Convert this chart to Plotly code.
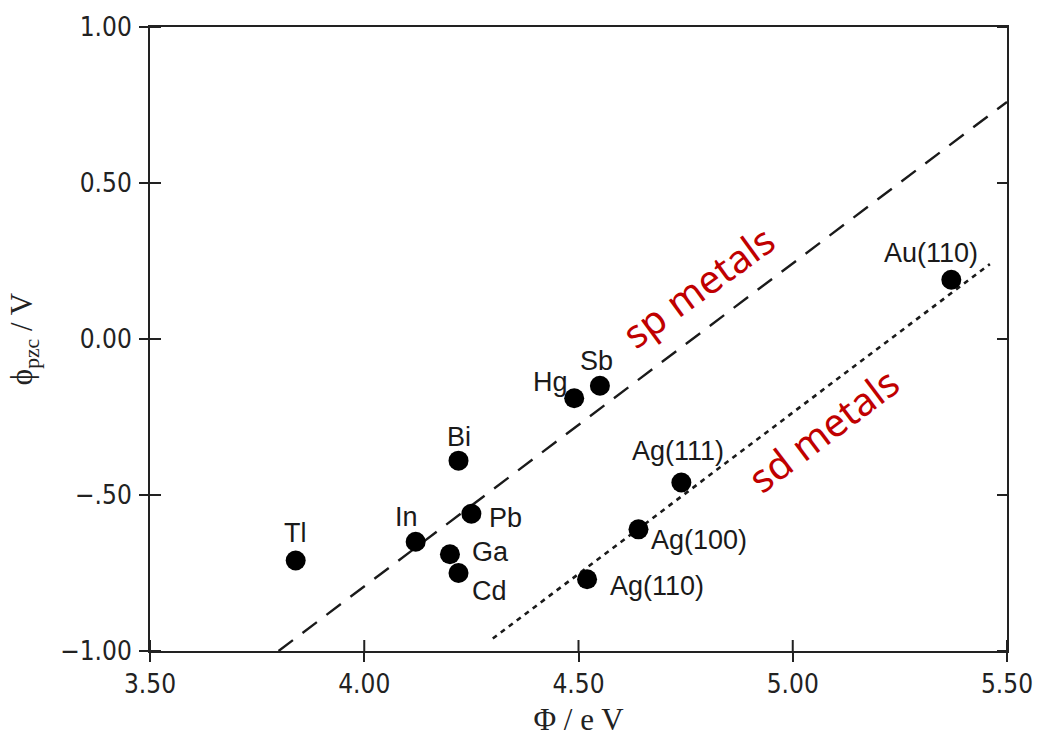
import plotly.graph_objects as go

# Work function vs. potential of zero charge
metals = ["Tl", "In", "Bi", "Pb", "Ga", "Cd", "Hg", "Sb",
          "Ag(111)", "Ag(100)", "Ag(110)", "Au(110)"]
work_function = [3.84, 4.12, 4.22, 4.25, 4.20, 4.22, 4.49, 4.55,
                 4.74, 4.64, 4.52, 5.37]
phi_pzc = [-0.71, -0.65, -0.39, -0.56, -0.69, -0.75, -0.19, -0.15,
           -0.46, -0.61, -0.77, 0.19]

# label offsets in pixels (dx, dy) relative to each point
label_dx = [0, -9, 0, 34, 41, 31, -24, -3, -3, 61, 70, -20]
label_dy = [28, 25, 24, -4, 2, -18, 16, 25, 32, -11, -7, 27]

# trend lines for the two groups
sp_x = [3.80, 5.50]
sp_y = [-1.00, 0.76]
sd_x = [4.30, 5.46]
sd_y = [-0.96, 0.24]

x_ticks = [3.5, 4.0, 4.5, 5.0, 5.5]
x_tick_text = ["3.50", "4.00", "4.50", "5.00", "5.50"]
y_ticks = [1.0, 0.5, 0.0, -0.5, -1.0]
y_tick_text = ["1.00", "0.50", "0.00", "\u2212.50", "\u22121.00"]

tick_font = dict(family="DejaVu Sans Condensed, Liberation Sans Narrow, "
                        "Arial Narrow, sans-serif",
                 size=26, color="#222222")
label_font = dict(family="Liberation Sans, Arial, sans-serif", size=27,
                  color="#1a1a1a")
title_font = dict(family="Liberation Serif, Times New Roman, serif",
                  size=31, color="#222222")
note_font = dict(family="Noto Sans, Open Sans, sans-serif", size=39,
                 color="#C00000")

fig = go.Figure()

fig.add_trace(go.Scatter(x=sp_x, y=sp_y, mode="lines",
                         line=dict(color="#1a1a1a", width=2.4,
                                   dash="18px,12px"),
                         hoverinfo="skip", showlegend=False))
fig.add_trace(go.Scatter(x=sd_x, y=sd_y, mode="lines",
                         line=dict(color="#1a1a1a", width=2.6,
                                   dash="5px,5px"),
                         hoverinfo="skip", showlegend=False))
fig.add_trace(go.Scatter(x=work_function, y=phi_pzc, mode="markers",
                         marker=dict(size=20, color="black"),
                         text=metals, showlegend=False))

for name, xv, yv, dx, dy in zip(metals, work_function, phi_pzc,
                                label_dx, label_dy):
    fig.add_annotation(x=xv, y=yv, text=name, showarrow=False,
                       xshift=dx, yshift=dy, font=label_font)

fig.add_annotation(x=4.78, y=0.17, text="sp metals", showarrow=False,
                   textangle=-36, font=note_font)
fig.add_annotation(x=5.07, y=-0.29, text="sd metals", showarrow=False,
                   textangle=-37, font=note_font)

# inner halves of the crossing ticks (bottom and left) and the
# inward ticks on the right-hand frame
tick_line = dict(color="#222222", width=2)
for xv in x_ticks:
    fig.add_shape(type="line", xref="x", yref="paper", x0=xv, x1=xv,
                  ysizemode="pixel", yanchor=0, y0=0, y1=11, line=tick_line)
for yv in y_ticks:
    fig.add_shape(type="line", yref="y", xref="paper", y0=yv, y1=yv,
                  xsizemode="pixel", xanchor=0, x0=0, x1=11, line=tick_line)
    fig.add_shape(type="line", yref="y", xref="paper", y0=yv, y1=yv,
                  xsizemode="pixel", xanchor=1, x0=-10, x1=0, line=tick_line)

axis_common = dict(showgrid=False, zeroline=False, linecolor="#222222",
                   tickcolor="#222222", tickwidth=2, showline=True,
                   linewidth=2, mirror=True, ticks="outside", ticklen=9,
                   tickfont=tick_font)

fig.update_layout(
    width=1045, height=746,
    margin=dict(l=150, r=33, t=24, b=95),
    paper_bgcolor="white", plot_bgcolor="white",
    xaxis=dict(range=[3.5, 5.5], tickvals=x_ticks, ticktext=x_tick_text,
               title=dict(text="\u03a6 / e V", font=title_font, standoff=10),
               **axis_common),
    yaxis=dict(range=[-1.0, 1.0], tickvals=y_ticks, ticktext=y_tick_text,
               ticklabelstandoff=2,
               title=dict(text="\u03d5<sub>pzc</sub> / V", font=title_font,
                          standoff=18),
               **axis_common),
)

fig.write_html("out.html")
